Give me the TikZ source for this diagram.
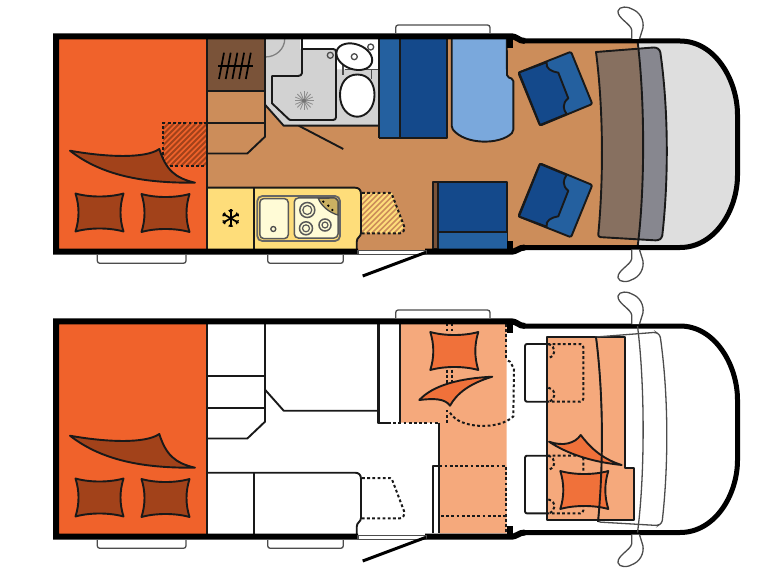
\documentclass[tikz,border=0pt]{standalone}

\definecolor{bedorange}{HTML}{F0622B}
\definecolor{throwbrown}{HTML}{A2421A}
\definecolor{floortan}{HTML}{CC8D5A}
\definecolor{cupboard}{HTML}{7A5339}
\definecolor{kitchen}{HTML}{FEDD7A}
\definecolor{cream}{HTML}{FFFBD6}
\definecolor{wetgrey}{HTML}{D2D2D2}
\definecolor{cabgrey}{HTML}{DEDEDE}
\definecolor{navy}{HTML}{14498B}
\definecolor{midblue}{HTML}{24609F}
\definecolor{skyblue}{HTML}{7AA8DC}
\definecolor{dashbrown}{HTML}{877060}
\definecolor{dashgrey}{HTML}{87878F}
\definecolor{peach}{HTML}{F5A97C}
\definecolor{pillow}{HTML}{F0713A}

\tikzset{
	wall/.style = {line width = 6 pt, line join = miter},
	frontwall/.style = {line width = 5 pt},
	seam/.style = {line width = 1.9 pt, line join = round, draw = black!90},
	fine/.style = {line width = 1.3 pt, draw = black!70},
	dotline/.style = {line width = 2 pt, dash pattern = on 2.8 pt off 2.4 pt, draw = black!90}
}

\begin{document}

\begin{tikzpicture}[x = 1 pt, y = -1 pt, line cap = butt]

	\useasboundingbox (0, 0) rectangle (775, 585);

	% Definition

	\def\Cushion#1#2#3{
		\draw [seam, fill = #3, shift = {(#1, #2)}] (-24, -19) .. controls (-10, -15) and (10, -15) .. (24, -19)
			.. controls (20, -6) and (20, 6) .. (24, 19)
			.. controls (10, 15) and (-10, 15) .. (-24, 19)
			.. controls (-20, 6) and (-20, -6) .. (-24, -19) -- cycle;
	}

	\def\BedFill{
		\fill [bedorange] (59, 39) rectangle (207, 249);
	}

	\def\DashLeft{(596, 52) .. controls (603.5, 110) and (603.5, 180) .. (598, 237)}
	\def\DashFull{[rounded corners = 2.5 pt] (596, 52) -- (656, 47.3) -- (660, 50) .. controls (668.6, 110) and (668.6, 180) .. (662, 238) -- (658, 240.5) -- (598, 237) [sharp corners] .. controls (603.5, 180) and (603.5, 110) .. (596, 52) -- cycle}
	\def\DashSplit{(637.5, 41) .. controls (645, 100) and (645, 190) .. (637.5, 247.5)}

	\def\Mirror{
		\draw [fine, fill = white] (631.7, 39) -- (631.7, 30) .. controls (631, 24) and (617, 18) .. (618, 11)
			.. controls (619, 6) and (628, 6) .. (634, 10) .. controls (642, 14) and (645, 24) .. (642, 31) -- (639.5, 39);
	}

	\def\Shell{
		% Throw and cushions on the rear bed
		\draw [seam, fill = throwbrown] (70, 150.7) .. controls (105, 157) and (145, 159) .. (159.3, 149)
			.. controls (166, 170) and (175, 178) .. (195, 182.7)
			.. controls (150, 183) and (105, 178) .. (70, 150.7) -- cycle;
		\Cushion{99.5}{212.5}{throwbrown}
		\Cushion{165.5}{213}{throwbrown}

		% Cupboards beside the bed
		\draw [seam] (207, 39) -- (207, 249);
		\draw [seam] (207, 91) -- (264, 91);
		\draw [seam] (207, 123) -- (264, 123);
		\draw [seam] (265, 39) -- (265, 136.7) -- (247.3, 153.5) -- (207, 153.5);

		% Bathroom outline
		\draw [seam] (265.3, 105) -- (283.7, 125.7) -- (379, 125.7);
		\draw [seam] (379, 39) -- (379, 137.7);

		% Kitchen outline
		\draw [seam] (207, 187.7) -- (355, 187.7) .. controls (359, 187.7) and (361, 190) .. (361, 194) -- (361, 233)
			.. controls (361, 237) and (356.7, 237) .. (356.7, 242) -- (356.7, 249);
		\draw [seam, line width = 2.2 pt] (254, 187.7) -- (254, 249);
		\draw [dotline] (362, 193) -- (390, 193) .. controls (392, 193) and (392, 195) .. (393, 197) -- (404, 226)
			.. controls (405, 230) and (403, 233.3) .. (400, 233.3) -- (362, 233.3);

		% Outer walls
		\draw [wall] (525, 41) .. controls (518, 41) and (518, 36.3) .. (510, 36.3) -- (56, 36.3) -- (56, 251.7) -- (358, 251.7);
		\draw [wall] (425, 251.7) -- (510, 251.7) .. controls (518, 251.7) and (518, 247.5) .. (525, 247.5);
		\draw [frontwall] (524, 41) -- (680, 41) .. controls (715, 41) and (737.5, 80) .. (737.5, 115) -- (737.5, 175)
			.. controls (737.5, 210) and (715, 247.5) .. (680, 247.5) -- (524, 247.5);
		\fill (506.7, 39) rectangle (512.7, 48);
		\fill (506.7, 240.7) rectangle (512.7, 250);

		% Steps and awning box
		\draw [fine, rounded corners = 2.5 pt, fill = white] (97.3, 255) -- (97.3, 263.3) -- (186, 263.3) -- (186, 255);
		\draw [fine, rounded corners = 2.5 pt, fill = white] (267.7, 255) -- (267.7, 263.3) -- (343.3, 263.3) -- (343.3, 255);
		\draw [fine, rounded corners = 2.5 pt, fill = white] (395.7, 33) -- (395.7, 25) -- (490, 25) -- (490, 33);

		% Door and sill
		\draw [fine, fill = white] (358, 250.5) rectangle (426, 254.5);
		\draw [line width = 3 pt] (362.7, 276) -- (426, 252.3);

		% Wing mirrors
		\Mirror
		\begin{scope}[shift = {(0, 288.7)}, yscale = -1]
			\Mirror
		\end{scope}
	}

	\def\Chair{
		\draw [seam, fill = midblue, rounded corners = 2 pt] (518.3, 72.7) -- (571, 51.7) -- (592.3, 104) -- (540, 125.7) -- cycle;
		\draw [seam, fill = navy] (519, 72.5) -- (546.7, 62.3) .. controls (545, 68.3) and (551.7, 71.7) .. (558.3, 72.7)
			-- (568.3, 98.3) .. controls (561.7, 103.3) and (563.3, 110) .. (566.7, 114) -- (540, 125) -- cycle;
	}

	% Floor and cab of the upper plan

	\fill [floortan] (207, 38) -- (513, 38) -- (525, 41) -- (638, 41) -- (638, 247.5) -- (525, 247.5) -- (513, 250) -- (207, 250) -- cycle;
	\fill [cabgrey] (637.5, 41) -- (680, 41) .. controls (715, 41) and (737.5, 80) .. (737.5, 115) -- (737.5, 175)
		.. controls (737.5, 210) and (715, 247.5) .. (680, 247.5) -- (637.5, 247.5) -- cycle;

	% Rear bed with the hatched bed extension

	\BedFill
	\begin{scope}
		\clip (163.3, 123) rectangle (207, 166);
		\foreach \s in {100, 105.5, ..., 210}
			\draw [line width = 1.8 pt, throwbrown] (\s, 170) -- (\s + 50, 120);
	\end{scope}
	\draw [dotline] (207, 123) -- (163.3, 123) -- (163.3, 166) -- (207, 166);

	% Wardrobe

	\fill [cupboard] (207, 39) rectangle (264, 91);
	\draw [line width = 1.7 pt] (218, 65.7) -- (252.7, 65.7);
	\foreach \s in {0, ..., 4}
		\draw [line width = 1.7 pt] (219 + \s * 6.7, 79) -- (224 + \s * 6.7, 52.7);

	% Bathroom

	\fill [wetgrey] (265.3, 39) -- (379, 39) -- (379, 125.7) -- (283.7, 125.7) -- (265.3, 105) -- cycle;
	\fill [white] (300.3, 39) -- (379, 39) -- (379, 69.3) -- (337, 69.3) -- (337, 49) -- (300.3, 49) -- cycle;
	\draw [fine, draw = black!50] (284.7, 39) arc (0 : 90 : 19.4 and 18);
	\draw [seam] (302, 39) -- (302, 73) .. controls (302, 75) and (300, 76) .. (298, 76) -- (272, 76) -- (272, 103.3) -- (288, 118.5)
		.. controls (289, 120) and (290, 120) .. (292, 120) -- (333, 120) .. controls (335, 120) and (336, 119) .. (336, 117) -- (336, 52)
		.. controls (336, 50) and (335, 49) .. (333, 49) -- (302, 49);
	\draw [fine] (330.3, 55.3) circle (3);
	\foreach \a in {0, 22.5, ..., 337.5}
		\draw [line width = 0.8 pt, black!45] (304, 100.7) -- ++(\a : 9.5);
	\fill [black!55] (304, 100.7) circle (2);
	\draw [seam] (298.7, 125.7) -- (343.3, 149);
	\draw [fine] (343, 65) -- (343, 75);
	\draw [fine] (371.3, 69.3) -- (371.3, 79);
	\draw [fine] (345, 69.3) -- (379, 69.3);
	\draw [seam, fill = white, rotate around = {-20 : (354.3, 56.7)}] (354.3, 56.7) ellipse (18.5 and 12.5);
	\draw [fine] (354.3, 56.7) circle (3);
	\draw [fine] (370.7, 47) circle (3);
	\draw [seam, fill = white] (357.3, 74.5) .. controls (369, 74.5) and (374.5, 84) .. (374.5, 95)
		.. controls (374.5, 108) and (366, 116.7) .. (357.3, 116.7) .. controls (348, 116.7) and (340, 108) .. (340, 95)
		.. controls (340, 84) and (346, 74.5) .. (357.3, 74.5) -- cycle;

	% Kitchen

	\fill [kitchen] (207, 187.7) -- (355, 187.7) .. controls (359, 187.7) and (361, 190) .. (361, 194) -- (361, 233)
		.. controls (361, 237) and (356.7, 237) .. (356.7, 242) -- (356.7, 249) -- (207, 249) -- cycle;
	\foreach \a in {30, 90, ..., 330} {
		\draw [line width = 1.7 pt] (230.7, 218.3) -- ++(\a : 9);
		\draw [line width = 1.2 pt] (230.7, 218.3) ++(\a : 6) -- ++(\a + 40 : 3);
		\draw [line width = 1.2 pt] (230.7, 218.3) ++(\a : 6) -- ++(\a - 40 : 3);
	}
	\draw [line width = 1.8 pt, black!60, rounded corners = 5 pt] (257.3, 196) -- (340, 196) -- (340, 241) -- (257.3, 241) -- cycle;
	\draw [line width = 1.5 pt, black!65, fill = cream, rounded corners = 4 pt] (259.8, 198.6) rectangle (288.3, 238.6);
	\draw [line width = 1.5 pt, black!65, fill = cream, rounded corners = 4 pt] (294.3, 198) rectangle (338, 238);
	\draw [fine] (273.3, 229) circle (2.5);
	\draw [fine, fill = kitchen!80!black] (318.3, 198.3) .. controls (321, 206) and (330, 213) .. (338, 215) -- (338, 201) -- (335, 198) -- cycle;
	\foreach \x / \y in {323.3 / 201.7, 328.3 / 205.7, 332.3 / 210}
		\fill (\x, \y) circle (1.3);
	\foreach \x / \y / \r in {307.3 / 210 / 7.5, 306 / 228.3 / 6.5, 325 / 225 / 6} {
		\draw [line width = 1.5 pt, black!65] (\x, \y) circle (\r);
		\draw [line width = 1.2 pt, black!65] (\x, \y) circle (\r - 3);
	}

	% Hatched table top

	\begin{scope}
		\clip (362, 193) -- (392, 193) -- (404, 226) -- (401, 233.3) -- (362, 233.3) -- cycle;
		\fill [kitchen] (360, 190) rectangle (406, 236);
		\foreach \s in {310, 315.5, ..., 410}
			\draw [line width = 1.6 pt, floortan] (\s, 240) -- (\s + 50, 190);
	\end{scope}

	% Seats

	\fill [navy] (380, 39) rectangle (447, 137.7);
	\fill [midblue] (380, 39) rectangle (400, 137.7);
	\draw [seam] (379, 137.7) -- (447, 137.7) -- (447, 39);
	\draw [seam] (400, 39) -- (400, 137.7);
	\draw [seam, fill = skyblue, rounded corners = 2 pt] (451.7, 39) -- (451.7, 128) .. controls (465, 145) and (500, 145) .. (513.3, 131.7)
		-- (513.3, 79) -- (507, 77) -- (506.7, 39);
	\draw [seam, fill = navy] (438.3, 181.7) -- (507.3, 181.7) -- (507.3, 249) -- (438.3, 249) -- cycle;
	\fill [midblue] (438.3, 231.7) rectangle (506.5, 248.5);
	\draw [seam] (438.3, 231.7) -- (507.3, 231.7);
	\draw [seam, fill = cupboard] (433.3, 181.7) rectangle (438.3, 249);

	% Swivel chairs

	\Chair
	\begin{scope}[shift = {(0, 289)}, yscale = -1]
		\Chair
	\end{scope}

	% Dashboard

	\fill [dashgrey] \DashFull;
	\fill [dashbrown] (596, 52) -- (638, 49) .. controls (645, 100) and (645, 190) .. (638, 240) -- (598, 237) .. controls (603.5, 180) and (603.5, 110) .. (596, 52) -- cycle;
	\draw [seam] \DashFull;
	\draw [seam] \DashSplit;

	% Shared outlines of the upper plan

	\Shell

	% Lower plan

	\begin{scope}[shift = {(0, 284.7)}]
		\BedFill

		% Dinette and cab bed
		\fill [peach] (400, 38.6) -- (506.7, 38.6) -- (506.7, 248.6) -- (439.3, 248.6) -- (439.3, 138) -- (400, 138) -- cycle;
		\fill [peach] (547.3, 52.6) rectangle (625, 235.6);
		\fill [peach] (625, 183) rectangle (634, 235.6);
		\draw [seam] (547.3, 52.6) -- (625, 52.6) -- (625, 183) -- (634, 183) -- (634, 235.6) -- (547.3, 235.6) -- cycle;
		\draw [seam] (400, 38.6) -- (400, 138);
		\draw [seam] (378.3, 39) -- (378.3, 138) -- (388, 138);
		\draw [seam] (439.3, 138) -- (439.3, 248.6);
		\draw [seam] (433.3, 248.6) -- (433.3, 181.3) -- (439.3, 181.3);

		% Folded seats under the beds
		\draw [dotline] (388, 138) -- (439.3, 138);
		\draw [dotline] (446.7, 38.6) -- (446.7, 47);
		\draw [dotline] (451.7, 38.6) -- (451.7, 47);
		\draw [dotline] (446.7, 85) -- (446.7, 98);
		\draw [dotline] (451.7, 85) -- (451.7, 98);
		\draw [dotline] (446.7, 138) -- (446.7, 123);
		\draw [dotline] (450, 128) .. controls (460, 145) and (500, 145) .. (513.3, 131.7) -- (514, 84) -- (510, 77) -- (506, 75);
		\draw [dotline] (506, 39) -- (506, 75);
		\draw [dotline] (439.3, 181.3) -- (506, 181.3) -- (506, 248);
		\draw [dotline] (441, 231.3) -- (506, 231.3);

		% Swivel bases
		\foreach \y in {59.3, 171} {
			\draw [seam, rounded corners = 2 pt] (547.3, \y) -- (525, \y) -- (525, \y + 57.7) -- (547.3, \y + 57.7);
			\draw [dotline, rounded corners = 3 pt] (547.3, \y) -- (583.3, \y) -- (583.3, \y + 57.7) -- (547.3, \y + 57.7);
			\draw [dotline] (548.3, \y) .. controls (556, \y + 2) and (557, \y + 12) .. (548.3, \y + 14);
			\draw [dotline] (548.3, \y + 43.7) .. controls (557, \y + 46) and (556, \y + 56) .. (548.3, \y + 57.7);
		}
	\end{scope}

	\begin{scope}[shift = {(0, 285)}]
		\Shell

		% Dashboard line and cushions on the beds
		\draw [fine] \DashFull;
		\draw [fine] \DashSplit;
		\Cushion{454.3}{66}{pillow}
		\draw [seam, fill = pillow] (419.3, 115) .. controls (433.3, 100) and (460, 93.3) .. (492.3, 91.7)
			.. controls (470, 98.3) and (456.7, 108.3) .. (450, 120.7)
			.. controls (445, 113.3) and (433.3, 113.3) .. (419.3, 115) -- cycle;
		\draw [seam, fill = pillow] (549, 156.7) .. controls (563.3, 161.7) and (575, 158.3) .. (580.7, 150)
			.. controls (588.3, 160) and (600, 173.3) .. (621.7, 180)
			.. controls (590, 176.7) and (566.7, 168.3) .. (549, 156.7) -- cycle;
		\Cushion{584.3}{205}{pillow}
		\draw [seam] \DashLeft;
	\end{scope}

\end{tikzpicture}

\end{document}
